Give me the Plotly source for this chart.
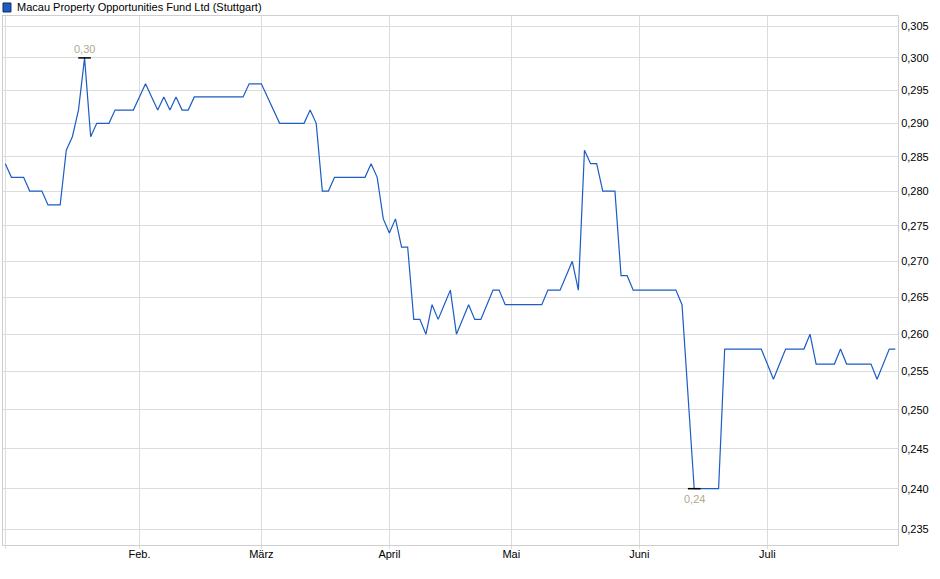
import math
import plotly.graph_objects as go

# Schlusskurse (EUR) je Handelstag, Januar bis Juli
kurs = [
    0.284, 0.282, 0.282, 0.282, 0.280, 0.280, 0.280, 0.278, 0.278, 0.278,
    0.286, 0.288, 0.292, 0.300, 0.288, 0.290, 0.290, 0.290, 0.292, 0.292,
    0.292, 0.292, 0.294, 0.296, 0.294, 0.292, 0.294, 0.292, 0.294, 0.292,
    0.292, 0.294, 0.294, 0.294, 0.294, 0.294, 0.294, 0.294, 0.294, 0.294,
    0.296, 0.296, 0.296, 0.294, 0.292, 0.290, 0.290, 0.290, 0.290, 0.290,
    0.292, 0.290, 0.280, 0.280, 0.282, 0.282, 0.282, 0.282, 0.282, 0.282,
    0.284, 0.282, 0.276, 0.274, 0.276, 0.272, 0.272, 0.262, 0.262, 0.260,
    0.264, 0.262, 0.264, 0.266, 0.260, 0.262, 0.264, 0.262, 0.262, 0.264,
    0.266, 0.266, 0.264, 0.264, 0.264, 0.264, 0.264, 0.264, 0.264, 0.266,
    0.266, 0.266, 0.268, 0.270, 0.266, 0.286, 0.284, 0.284, 0.280, 0.280,
    0.280, 0.268, 0.268, 0.266, 0.266, 0.266, 0.266, 0.266, 0.266, 0.266,
    0.266, 0.264, 0.252, 0.240, 0.240, 0.240, 0.240, 0.240, 0.258, 0.258,
    0.258, 0.258, 0.258, 0.258, 0.258, 0.256, 0.254, 0.256, 0.258, 0.258,
    0.258, 0.258, 0.260, 0.256, 0.256, 0.256, 0.256, 0.258, 0.256, 0.256,
    0.256, 0.256, 0.256, 0.254, 0.256, 0.258, 0.258,
]
tage = list(range(len(kurs)))

# erster Handelstag je Monat und Beschriftung
monat_start = [0, 22, 42, 63, 83, 104, 125]
monat_namen = ["", "Feb.", "März", "April", "Mai", "Juni", "Juli"]

y_ticks = [0.235, 0.240, 0.245, 0.250, 0.255, 0.260, 0.265, 0.270,
           0.275, 0.280, 0.285, 0.290, 0.295, 0.300, 0.305]

titel = "Macau Property Opportunities Fund Ltd (Stuttgart)"
blau = "#1c5cc4"
grau = "#dcdcdc"

i_max = kurs.index(max(kurs))
i_min = kurs.index(min(kurs))

fig = go.Figure()
fig.add_trace(go.Scatter(x=tage, y=kurs, mode="lines", name=titel,
                         line=dict(color=blau, width=1.2), showlegend=False))

# Markierung Hoch / Tief
fig.add_trace(go.Scatter(x=[i_max, i_min], y=[kurs[i_max], kurs[i_min]], mode="markers",
                         marker=dict(symbol="line-ew", size=9, line=dict(color="black", width=1.5)),
                         showlegend=False, hoverinfo="skip"))
fig.add_annotation(x=i_max, y=math.log10(kurs[i_max]), text="0,30", showarrow=False,
                   yanchor="bottom", yshift=1, font=dict(size=11, color="#b5a88f"))
fig.add_annotation(x=i_min, y=math.log10(kurs[i_min]), text="0,24", showarrow=False,
                   yanchor="top", yshift=-2, font=dict(size=11, color="#b5a88f"))

# Legende oben links
fig.add_shape(type="rect", xref="paper", yref="paper", x0=0.0, x1=0.0089, y0=1.0076, y1=1.0246,
              fillcolor=blau, line=dict(color="#0a2a66", width=1))
fig.add_annotation(xref="paper", yref="paper", x=0.0134, y=1.0175, text=titel, showarrow=False,
                   xanchor="left", yanchor="middle", font=dict(size=11, color="#000000"))

fig.update_layout(
    width=940, height=579,
    margin=dict(l=3, r=42, t=16, b=34, pad=0),
    paper_bgcolor="white", plot_bgcolor="white",
    font=dict(family="Liberation Sans, Arial, sans-serif", size=11, color="#000000"),
    separators=",.",
    showlegend=False,
)
fig.update_xaxes(
    range=[-0.38, 146.43], tickvals=monat_start, ticktext=monat_namen,
    showgrid=True, gridcolor=grau, gridwidth=1, zeroline=False,
    showline=True, linecolor="#cfcfcf", mirror=True,
    ticks="outside", ticklen=3, tickcolor=grau, automargin=False,
    ticklabelstandoff=-4,
)
fig.update_yaxes(
    type="log", side="right",
    range=[math.log10(0.235) - 0.00353, math.log10(0.305) + 0.00225],
    tickvals=y_ticks, tickformat=".3f",
    showgrid=True, gridcolor=grau, gridwidth=1, zeroline=False,
    showline=True, linecolor="#cfcfcf", mirror=True, ticks="", automargin=False,
)

# Seitenrand des Browsers entfernen, damit das Bild bei 0/0 beginnt
fig.write_html("out.html", config={"displayModeBar": False},
               post_script="document.body.style.margin='0';")
